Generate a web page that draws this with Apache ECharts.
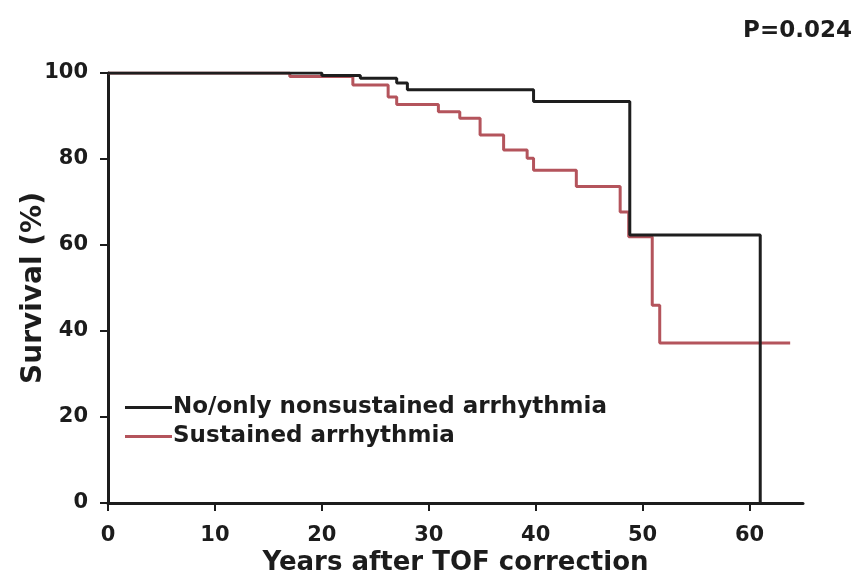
<!DOCTYPE html>
<html>
<head>
<meta charset="utf-8">
<script src="https://cdn.jsdelivr.net/npm/echarts@6/dist/echarts.min.js"></script>
<style>
  html, body { margin: 0; padding: 0; background: #fff; }
  #chart { width: 861px; height: 577px; }
</style>
</head>
<body>
<div id="chart"></div>
<script>
// Kaplan-Meier survival after TOF correction, by arrhythmia group
var seriesNames = ['No/only nonsustained arrhythmia', 'Sustained arrhythmia'];

// No/only nonsustained arrhythmia: event times (years) and survival (%) from that time on
var noArrYears    = [0,   20,   23.6, 27,   28,   39.8, 48.8, 61];
var noArrSurvival = [100, 99.4, 98.8, 97.7, 96.1, 93.4, 62.3, 0];

// Sustained arrhythmia
var susArrYears    = [0,   17,   22.9, 26.2, 27,   30.9, 32.9, 34.8, 37.0, 39.2, 39.8, 43.8, 47.9, 48.7, 50.9, 51.6, 63.8];
var susArrSurvival = [100, 99.2, 97.2, 94.4, 92.7, 91.0, 89.5, 85.6, 82.1, 80.2, 77.4, 73.6, 67.7, 61.9, 46.0, 37.2, 37.2];

var xTickValues = [0, 10, 20, 30, 40, 50, 60];
var pValueText = 'P=0.024';

var FONT = '"DejaVu Sans", sans-serif';
var INK = '#1c1c1c';
var BLACK_LINE = '#1e1e1e';
var RED_LINE = '#b4545c';

function pairs(xs, ys) {
  return xs.map(function (x, i) { return [x, ys[i]]; });
}

var chart = echarts.init(document.getElementById('chart'), null, { renderer: 'canvas' });

chart.setOption({
  backgroundColor: '#ffffff',
  animation: false,
  grid: { left: 108, right: 58, top: 73, bottom: 74, containLabel: false, outerBoundsMode: 'none' },
  xAxis: {
    type: 'value',
    min: 0,
    max: 65,
    interval: 10,
    name: 'Years after TOF correction',
    nameLocation: 'middle',
    nameGap: 47,
    nameMoveOverlap: false,
    nameTextStyle: { fontFamily: FONT, fontWeight: 'bold', fontSize: 26, color: INK },
    axisLine: { show: true, onZero: false, lineStyle: { color: INK, width: 3 } },
    axisTick: { show: true, inside: false, length: 8, lineStyle: { color: INK, width: 2 }, customValues: xTickValues },
    axisLabel: { margin: 22, fontFamily: FONT, fontWeight: 'bold', fontSize: 21, color: INK, customValues: xTickValues },
    splitLine: { show: false }
  },
  yAxis: {
    type: 'value',
    min: 0,
    max: 100,
    interval: 20,
    name: 'Survival (%)',
    nameLocation: 'middle',
    nameGap: 60,
    nameRotate: 90,
    nameMoveOverlap: false,
    nameTextStyle: { fontFamily: FONT, fontWeight: 'bold', fontSize: 28, color: INK },
    axisLine: { show: true, onZero: false, lineStyle: { color: INK, width: 3 } },
    axisTick: { show: true, inside: false, length: 8, lineStyle: { color: INK, width: 2 } },
    axisLabel: { margin: 20, fontFamily: FONT, fontWeight: 'bold', fontSize: 21, color: INK },
    splitLine: { show: false }
  },
  legend: {
    show: true,
    orient: 'vertical',
    left: 120,
    top: 391,
    itemWidth: 47,
    itemHeight: 14,
    itemGap: 6,
    icon: 'path://M0,6 L47,6 L47,9 L0,9 Z',
    textStyle: { fontFamily: FONT, fontWeight: 'bold', fontSize: 23, color: INK, padding: [0, 0, 0, -4] },
    data: seriesNames
  },
  graphic: [{
    type: 'text',
    right: 9,
    top: 20,
    style: { text: pValueText, fontFamily: FONT, fontWeight: 'bold', fontSize: 23, fill: INK }
  }],
  series: [
    {
      name: seriesNames[0],
      type: 'line',
      step: 'end',
      symbol: 'none',
      data: pairs(noArrYears, noArrSurvival),
      lineStyle: { color: BLACK_LINE, width: 3 },
      itemStyle: { color: BLACK_LINE },
      z: 3
    },
    {
      name: seriesNames[1],
      type: 'line',
      step: 'end',
      symbol: 'none',
      data: pairs(susArrYears, susArrSurvival),
      lineStyle: { color: RED_LINE, width: 3 },
      itemStyle: { color: RED_LINE },
      z: 2
    }
  ]
});
</script>
</body>
</html>
